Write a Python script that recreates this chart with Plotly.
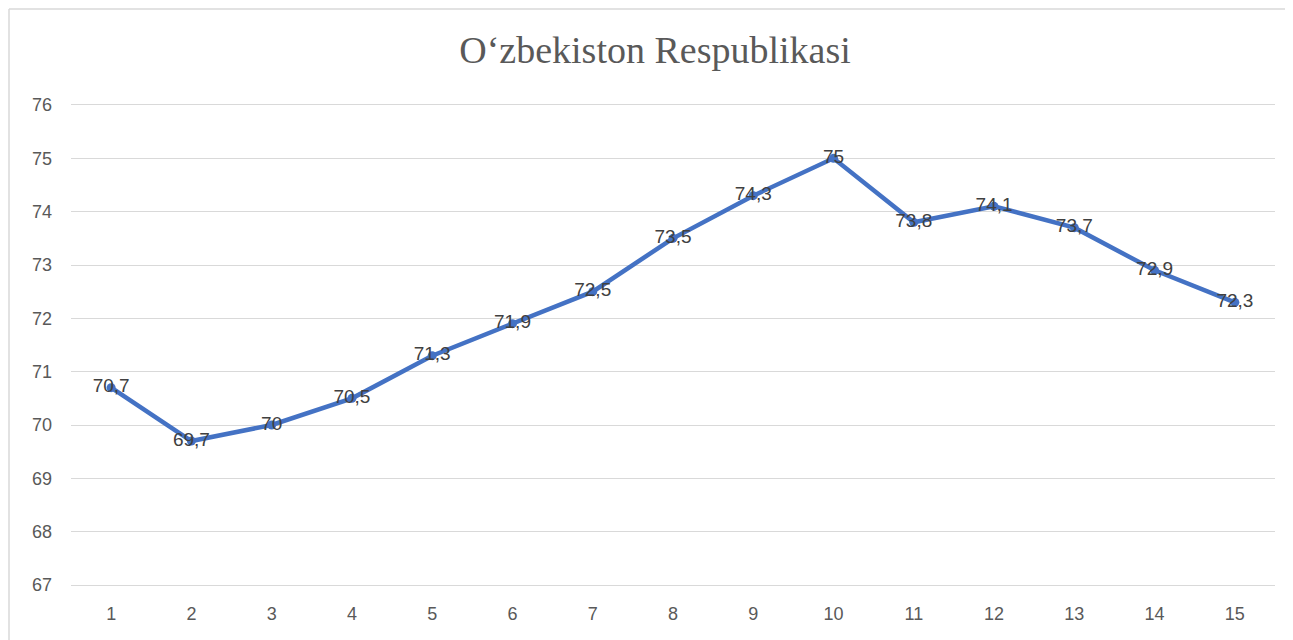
import plotly.graph_objects as go

categories = [str(i) for i in range(1, 16)]
values = [70.7, 69.7, 70.0, 70.5, 71.3, 71.9, 72.5, 73.5, 74.3, 75.0, 73.8, 74.1, 73.7, 72.9, 72.3]
y_ticks = [67, 68, 69, 70, 71, 72, 73, 74, 75, 76]
title_text = "O\u2018zbekiston Respublikasi"


def fmt(v):
    s = ("%g" % v)
    return s.replace(".", ",")


labels = [fmt(v) for v in values]

# page has an 8px body margin: figure starts at (8, 8) in the window
OFF = 8
W, H = 1293 - OFF, 640 - OFF
L, R, T, B = 71 - OFF, 18, 105 - OFF, 55
pw = W - L - R
ph = H - T - B

fig = go.Figure()
fig.add_trace(go.Scatter(
    x=categories, y=values, mode="lines+markers+text",
    line=dict(color="#4472C4", width=4.5),
    marker=dict(color="#4472C4", size=9),
    text=labels, textposition="middle center",
    textfont=dict(family="Liberation Sans, Arial, sans-serif", size=19, color="#404040"),
    cliponaxis=False, hoverinfo="skip",
))

# outer chart border (left and top edges visible in the reference)
bx = (1 - L) / pw
by = 1 + (T - 1) / ph
fig.add_shape(type="line", xref="paper", yref="paper", x0=bx, x1=bx, y0=by, y1=-1, line=dict(color="#d9d9d9", width=1.5))
fig.add_shape(type="line", xref="paper", yref="paper", x0=bx, x1=2, y0=by, y1=by, line=dict(color="#d9d9d9", width=1.5))

fig.update_layout(
    width=W, height=H,
    margin=dict(l=L, r=R, t=T, b=B),
    paper_bgcolor="white", plot_bgcolor="white",
    showlegend=False,
    title=dict(text=title_text, x=(655 - OFF) / W, xanchor="center", y=1 - (50 - OFF) / H, yanchor="middle",
               font=dict(family="Liberation Serif, Times New Roman, serif", size=38, color="#595959")),
)
fig.update_xaxes(
    type="category", range=[-0.5, 14.5], showgrid=False, zeroline=False,
    showline=True, mirror=True, linecolor="#d9d9d9", linewidth=1.3,
    ticks="", ticklabelstandoff=12,
    tickfont=dict(family="Liberation Sans, Arial, sans-serif", size=18, color="#595959"),
)
fig.update_yaxes(
    range=[67, 76], tickvals=y_ticks, showgrid=True, gridcolor="#d9d9d9", gridwidth=1.3,
    zeroline=False, showline=False, ticks="", ticklabelstandoff=18,
    tickfont=dict(family="Liberation Sans, Arial, sans-serif", size=18, color="#595959"),
)

fig.write_html("out.html")
